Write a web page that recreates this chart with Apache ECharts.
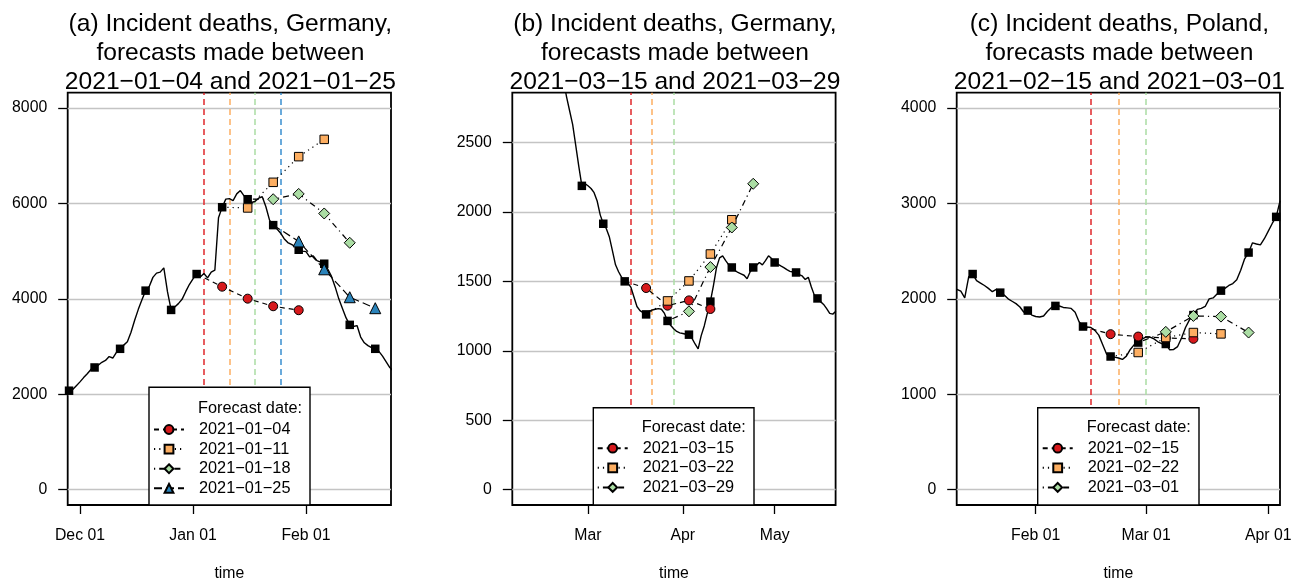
<!DOCTYPE html>
<html><head><meta charset="utf-8">
<script src="https://cdn.jsdelivr.net/npm/echarts@6/dist/echarts.min.js"></script>
<style>html,body{margin:0;padding:0;background:#fff}#c{width:1292px;height:580px}</style>
</head><body><div id="c"></div>
<script>
// ---------------- DATA ----------------
// Panel (a) Germany, Jan 2021
const aTitle = ['(a) Incident deaths, Germany,', 'forecasts made between', '2021\u221201\u221204 and 2021\u221201\u221225'];
const aDailyStart = '2020-11-27';
const aDaily = [2060, 2075, 2100, 2180, 2260, 2350, 2430, 2520, 2562, 2610, 2670, 2710, 2790, 2760, 2880, 2953,
  3030, 3100, 3300, 3550, 3780, 3980, 4172, 4260, 4450, 4540, 4560, 4650, 4150, 3768, 3830, 3900, 3990, 4150,
  4300, 4420, 4520, 4460, 4530, 4440, 4560, 4600, 5700, 5920, 6090, 6100, 6060, 6200, 6270, 6160, 6088, 6020,
  6040, 6110, 6140, 5930, 5650, 5545, 5470, 5380, 5260, 5180, 5140, 5100, 5029, 5000, 4990, 4880, 4900, 4800,
  4770, 4736, 4620, 4470, 4250, 4000, 3800, 3600, 3455, 3420, 3440, 3200, 3080, 3020, 2980, 2953, 2900, 2800,
  2680, 2560, 2480];
const aWeekDates = ['2020-11-28', '2020-12-05', '2020-12-12', '2020-12-19', '2020-12-26', '2021-01-02', '2021-01-09',
  '2021-01-16', '2021-01-23', '2021-01-30', '2021-02-06', '2021-02-13', '2021-02-20'];
const aWeekly = [2075, 2562, 2953, 4172, 3768, 4520, 5920, 6088, 5545, 5029, 4736, 3455, 2953];
const aFcDates = ['2021-01-04', '2021-01-11', '2021-01-18', '2021-01-25'];
const aFc0104 = [4255, 4004, 3845, 3762];
const aFc0111 = [5905, 6442, 6980, 7342];
const aFc0118 = [6088, 6199, 5789, 5175];
const aFc0125 = [5204, 4619, 4034, 3804];
const aTickDates = ['2020-12-01', '2021-01-01', '2021-02-01'];
const aTickLabels = ['Dec 01', 'Jan 01', 'Feb 01'];
const aYTicks = [0, 2000, 4000, 6000, 8000];

// Panel (b) Germany, Mar 2021
const bTitle = ['(b) Incident deaths, Germany,', 'forecasts made between', '2021\u221203\u221215 and 2021\u221203\u221229'];
const bDailyStart = '2021-02-21';
const bDaily = [2950, 2830, 2730, 2630, 2480, 2330, 2189, 2205, 2190, 2170, 2140, 2080, 1980, 1916, 1880, 1820,
  1720, 1620, 1570, 1530, 1501, 1490, 1460, 1390, 1320, 1290, 1275, 1263, 1285, 1295, 1300, 1305, 1300, 1270,
  1216, 1185, 1160, 1140, 1130, 1125, 1120, 1117, 1090, 1050, 1015, 1110, 1180, 1270, 1355, 1470, 1600, 1670,
  1685, 1650, 1620, 1601, 1580, 1565, 1555, 1545, 1520, 1570, 1601, 1615, 1637, 1620, 1650, 1685, 1665, 1637,
  1625, 1612, 1600, 1585, 1573, 1568, 1565, 1550, 1540, 1515, 1530, 1460, 1400, 1378, 1355, 1335, 1305, 1270,
  1265, 1285];
const bWeekDates = ['2021-02-27', '2021-03-06', '2021-03-13', '2021-03-20', '2021-03-27', '2021-04-03', '2021-04-10',
  '2021-04-17', '2021-04-24', '2021-05-01', '2021-05-08', '2021-05-15'];
const bWeekly = [2189, 1916, 1501, 1263, 1216, 1117, 1355, 1601, 1601, 1637, 1565, 1378];
const bFcDates = ['2021-03-15', '2021-03-22', '2021-03-29'];
const bFc0315 = [1453, 1326, 1364, 1302];
const bFc0322 = [1360, 1504, 1698, 1945];
const bFc0329 = [1285, 1604, 1889, 2204];
const bTickDates = ['2021-03-01', '2021-04-01', '2021-05-01'];
const bTickLabels = ['Mar', 'Apr', 'May'];
const bYTicks = [0, 500, 1000, 1500, 2000, 2500];

// Panel (c) Poland, Feb-Mar 2021
const cTitle = ['(c) Incident deaths, Poland,', 'forecasts made between', '2021\u221202\u221215 and 2021\u221203\u221201'];
const cDailyStart = '2021-01-11';
const cDaily = [2110, 2100, 2080, 2010, 2230, 2260, 2190, 2165, 2140, 2110, 2075, 2100, 2065, 2040, 2000, 1975,
  1950, 1915, 1860, 1877, 1830, 1815, 1810, 1820, 1870, 1910, 1926, 1925, 1910, 1905, 1900, 1860, 1760, 1710,
  1705, 1700, 1670, 1620, 1520, 1420, 1396, 1390, 1380, 1365, 1400, 1470, 1520, 1542, 1580, 1600, 1600, 1580,
  1550, 1530, 1527, 1466, 1470, 1500, 1590, 1700, 1780, 1830, 1890, 1900, 1920, 2000, 2010, 2050, 2086, 2110,
  2140, 2160, 2200, 2300, 2420, 2485, 2587, 2575, 2565, 2630, 2710, 2790, 2859, 3030];
const cWeekDates = ['2021-01-16', '2021-01-23', '2021-01-30', '2021-02-06', '2021-02-13', '2021-02-20', '2021-02-27',
  '2021-03-06', '2021-03-13', '2021-03-20', '2021-03-27', '2021-04-03'];
const cWeekly = [2260, 2065, 1877, 1926, 1710, 1396, 1542, 1527, 1830, 2086, 2485, 2859];
const cFcDates = ['2021-02-15', '2021-02-22', '2021-03-01'];
const cFc0215 = [1630, 1605, 1590, 1581];
const cFc0222 = [1438, 1595, 1647, 1633];
const cFc0301 = [1654, 1821, 1814, 1647];
const cTickDates = ['2021-02-01', '2021-03-01', '2021-04-01'];
const cTickLabels = ['Feb 01', 'Mar 01', 'Apr 01'];
const cYTicks = [0, 1000, 2000, 3000, 4000];

// ---------------- LAYOUT / STYLE ----------------
const FONT = '"Liberation Sans", Arial, Helvetica, sans-serif';
const DAY = 86400000;
const t = s => Date.parse(s + 'T00:00:00Z');
const disp = s => s.replace(/-/g, '\u2212');

const FC_STYLES = [
  { fill: '#D7191C', symbol: 'circle', size: 9, dash: [5, 4], vline: '#E0272B' },
  { fill: '#FDAE61', symbol: 'rect', size: 8.5, dash: [1.2, 4], vline: '#FDAE61' },
  { fill: '#ABDDA4', symbol: 'diamond', size: 11, dash: [1.2, 4, 6, 4], vline: '#ABDDA4' },
  { fill: '#2B83BA', symbol: 'triangle', size: 11, dash: [8, 4], vline: '#3A8FD0' }
];

const panels = [
  { title: aTitle, start: aDailyStart, daily: aDaily, wDates: aWeekDates, weekly: aWeekly, fcDates: aFcDates,
    fcVals: [aFc0104, aFc0111, aFc0118, aFc0125], ticks: aTickDates, tickLabels: aTickLabels, yTicks: aYTicks,
    left: 67.7, xmin: t('2020-11-27') + 0.63 * DAY, xmax: t('2021-02-24') + 0.32 * DAY, ymin: -320, ymax: 8320,
    box: [149, 387.3, 161, 117.7], legLeft: 153, legTop: 420.5, fdY: 409 },
  { title: bTitle, start: bDailyStart, daily: bDaily, wDates: bWeekDates, weekly: bWeekly, fcDates: bFcDates,
    fcVals: [bFc0315, bFc0322, bFc0329], ticks: bTickDates, tickLabels: bTickLabels, yTicks: bYTicks,
    left: 512.3, xmin: t('2021-02-04') + 0.27 * DAY, xmax: t('2021-05-20') + 0.92 * DAY, ymin: -110, ymax: 2860,
    box: [593.3, 407.7, 160.7, 97.3], legLeft: 596.7, legTop: 439.2, fdY: 427.7 },
  { title: cTitle, start: cDailyStart, daily: cDaily, wDates: cWeekDates, weekly: cWeekly, fcDates: cFcDates,
    fcVals: [cFc0215, cFc0222, cFc0301], ticks: cTickDates, tickLabels: cTickLabels, yTicks: cYTicks,
    left: 956.7, xmin: t('2021-01-11') + 0.96 * DAY, xmax: t('2021-04-03') + 0.97 * DAY, ymin: -160, ymax: 4160,
    box: [1037.7, 407.7, 161.3, 97.3], legLeft: 1041.7, legTop: 439.2, fdY: 427.7 }
];
const PW = 323.3, PTOP = 92.7, PH = 412.3;

const grid = [], xAxis = [], yAxis = [], series = [], legend = [], graphic = [];

panels.forEach((p, i) => {
  grid.push({ left: p.left, top: PTOP, width: PW, height: PH, show: true, borderColor: '#000', borderWidth: 1.8,
    backgroundColor: 'transparent', containLabel: false, outerBoundsMode: 'none' });
  const tickTs = p.ticks.map(t);
  xAxis.push({
    type: 'value', gridIndex: i, min: p.xmin, max: p.xmax, scale: true, position: 'bottom',
    splitLine: { show: false }, axisLine: { show: false, onZero: false },
    axisTick: { show: true, length: 9, customValues: tickTs, lineStyle: { color: '#000', width: 1.3 } },
    axisLabel: { show: true, customValues: tickTs, margin: 22.5, color: '#000', fontSize: 15.8, fontFamily: FONT,
      hideOverlap: false, showMinLabel: true, showMaxLabel: true,
      formatter: v => { const k = tickTs.findIndex(x => Math.abs(x - v) < DAY / 2); return k >= 0 ? p.tickLabels[k] : ''; } },
    name: 'time', nameLocation: 'middle', nameGap: 61,
    nameTextStyle: { color: '#000', fontSize: 15.8, fontFamily: FONT }
  });
  yAxis.push({
    type: 'value', gridIndex: i, min: p.ymin, max: p.ymax, position: 'left',
    splitLine: { show: false }, axisLine: { show: false, onZero: false },
    axisTick: { show: true, length: 9.5, customValues: p.yTicks, lineStyle: { color: '#000', width: 1.3 } },
    axisLabel: { show: true, customValues: p.yTicks, margin: 20.5, color: '#000', fontSize: 15.8, fontFamily: FONT,
      formatter: v => String(v) }
  });
  const t0 = t(p.start);
  series.push({
    type: 'line', name: 'obs' + i, xAxisIndex: i, yAxisIndex: i, z: 3, symbol: 'none', silent: true,
    data: p.daily.map((v, k) => [t0 + k * DAY, v]),
    lineStyle: { color: '#000', width: 1.4 },
    markLine: { silent: true, z: 1, symbol: ['none', 'none'], label: { show: false }, animation: false,
      lineStyle: { color: '#C4C4C4', type: 'solid', width: 1.4 },
      data: p.yTicks.map(v => ({ yAxis: v })) }
  });
  series.push({
    type: 'scatter', name: 'wk' + i, xAxisIndex: i, yAxisIndex: i, z: 4, silent: true,
    symbol: 'rect', symbolSize: 8.5, itemStyle: { color: '#000', opacity: 1 },
    data: p.wDates.map((d, k) => [t(d), p.weekly[k]])
  });
  const names = [];
  p.fcDates.forEach((fd, j) => {
    const st = FC_STYLES[j];
    const ft = t(fd);
    let a = -1;
    p.wDates.forEach((d, k) => { if (t(d) < ft) a = k; });
    const data = [{ value: [t(p.wDates[a]), p.weekly[a]], symbol: 'none' }];
    p.fcVals[j].forEach((v, k) => data.push([t(p.wDates[a + 1 + k]), v]));
    const nm = disp(fd);
    names.push(nm);
    series.push({
      type: 'line', name: nm, xAxisIndex: i, yAxisIndex: i, z: 5 + j, silent: true,
      symbol: st.symbol, symbolSize: st.size, showAllSymbol: true,
      itemStyle: { color: st.fill, borderColor: '#000', borderWidth: 1, opacity: 1 },
      lineStyle: { color: '#000', width: 1.2, type: st.dash },
      data,
      markLine: { silent: true, z: 2, symbol: ['none', 'none'], label: { show: false }, animation: false,
        lineStyle: { color: st.vline, type: [6, 4], width: 1.5 },
        data: [{ xAxis: ft }] }
    });
  });
  legend.push({
    data: names, orient: 'vertical', left: p.legLeft, top: p.legTop, padding: 0,
    itemWidth: 30, itemHeight: 11, itemGap: 1.6, selectedMode: false, z: 40,
    textStyle: { color: '#000', fontSize: 16.3, fontFamily: FONT, lineHeight: 18, padding: [0, 0, 0, 10] }
  });
  graphic.push({
    type: 'text', z: 50, silent: true,
    style: { text: p.title.join('\n'), x: p.left + PW / 2 + 1, y: 10, align: 'center', verticalAlign: 'top',
      fontSize: 24.6, fontFamily: FONT, lineHeight: 29, fill: '#000' }
  });
  graphic.push({
    type: 'rect', z: 30, silent: true,
    shape: { x: p.box[0], y: p.box[1], width: p.box[2], height: p.box[3] },
    style: { fill: '#fff', stroke: '#000', lineWidth: 1.4 }
  });
  graphic.push({
    type: 'text', z: 45, silent: true,
    style: { text: 'Forecast date:', x: p.legLeft + 45, y: p.fdY, align: 'left', verticalAlign: 'middle',
      fontSize: 16.3, fontFamily: FONT, fill: '#000' }
  });
});

const chart = echarts.init(document.getElementById('c'), null, { renderer: 'canvas' });
chart.setOption({
  animation: false, backgroundColor: '#fff',
  textStyle: { fontFamily: FONT },
  grid, xAxis, yAxis, series, legend, graphic
});
</script></body></html>
